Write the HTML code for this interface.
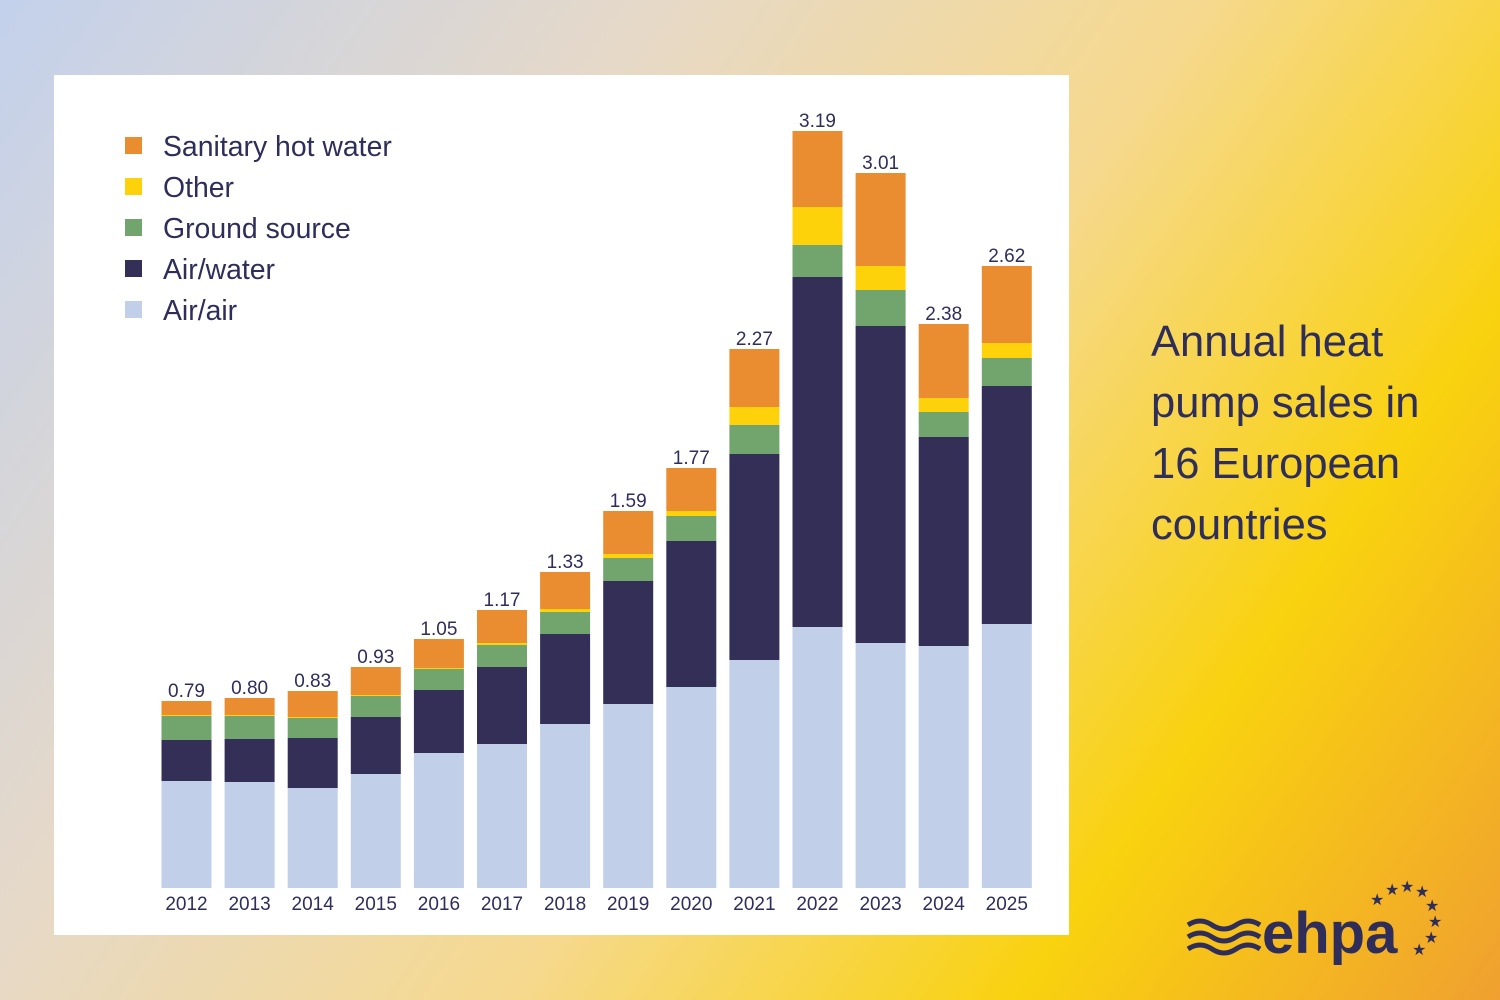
<!DOCTYPE html>
<html><head><meta charset="utf-8"><style>
html,body{margin:0;padding:0}
body{width:1500px;height:1000px;position:relative;overflow:hidden;font-family:"Liberation Sans",sans-serif;
background:linear-gradient(125deg,#c3d1ec 0%,#e6d9c8 30%,#f6d98e 55%,#f9d20f 78%,#f0a030 100%);}
.panel{position:absolute;left:54px;top:75px;width:1015px;height:860px;background:#fff}
.title{position:absolute;left:1151px;top:312px;font-size:43.5px;line-height:61px;color:#2f2d5a}
</style></head><body>
<div class="panel"></div>
<svg width="1500" height="1000" style="position:absolute;left:0;top:0" font-family="Liberation Sans, sans-serif">
<g font-size="28.4" fill="#2f2d5a">
<rect x="125" y="137" width="17" height="17" fill="#e98d30"/><text x="163" y="156">Sanitary hot water</text>
<rect x="125" y="178" width="17" height="17" fill="#fdd20a"/><text x="163" y="197">Other</text>
<rect x="125" y="219" width="17" height="17" fill="#72a46e"/><text x="163" y="238">Ground source</text>
<rect x="125" y="260" width="17" height="17" fill="#342f57"/><text x="163" y="279">Air/water</text>
<rect x="125" y="301" width="17" height="17" fill="#c2cfe8"/><text x="163" y="320">Air/air</text>
</g>
<g id="bars"></g>
</svg>
<div class="title">Annual heat<br>pump sales in<br>16 European<br>countries</div>
<svg width="270" height="100" style="position:absolute;left:1180px;top:875px">
<g stroke="#2f2d5a" stroke-width="5" fill="none">
<path d="M8 50 q12 -8 24 0 t24 0 t24 0"/><path d="M8 62 q12 -8 24 0 t24 0 t24 0"/><path d="M8 74 q12 -8 24 0 t24 0 t24 0"/>
</g>
<text x="82" y="78" font-size="58" font-weight="bold" fill="#2f2d5a" font-family="Liberation Sans, sans-serif">ehpa</text>
<g fill="#2f2d5a" font-size="16"><text x="190" y="30">★</text><text x="205" y="20">★</text><text x="220" y="17">★</text><text x="235" y="22">★</text><text x="245" y="36">★</text><text x="248" y="52">★</text><text x="244" y="68">★</text><text x="232" y="80">★</text></g>
</svg>
<script>
const d=[["2012",[781,740,716,715,701],"0.79"],["2013",[782,739,716,715,698],"0.80"],["2014",[788,738,718,717,691],"0.83"],
["2015",[774,717,696,695,667],"0.93"],["2016",[753,690,669,668,639],"1.05"],["2017",[744,667,645,643,610],"1.17"],
["2018",[724,634,612,609,572],"1.33"],["2019",[704,581,558,554,511],"1.59"],["2020",[687,541,516,511,468],"1.77"],
["2021",[660,454,425,407,349],"2.27"],["2022",[627,277,245,207,131],"3.19"],["2023",[643,326,290,266,173],"3.01"],
["2024",[646,437,412,398,324],"2.38"],["2025",[624,386,358,343,266],"2.62"]];
const c=["#c2cfe8","#342f57","#72a46e","#fdd20a","#e98d30"];
let s="";
d.forEach((b,i)=>{const x=161.5+i*63.1;let prev=888;
b[1].forEach((t,j)=>{s+=`<rect x="${x}" y="${t}" width="50" height="${prev-t}" fill="${c[j]}"/>`;prev=t;});
s+=`<text x="${x+25}" y="${b[1][4]-4}" font-size="19" text-anchor="middle" fill="#2f2d5a">${b[2]}</text>`;
s+=`<text x="${x+25}" y="910" font-size="19" text-anchor="middle" fill="#2f2d5a">${b[0]}</text>`;});
document.getElementById("bars").innerHTML=s;
</script>
</body></html>
